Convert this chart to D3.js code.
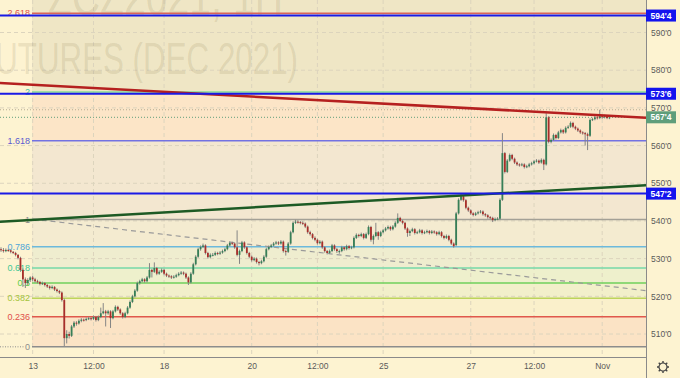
<!DOCTYPE html>
<html>
<head>
<meta charset="utf-8">
<script src="https://cdn.jsdelivr.net/npm/d3@7"></script>
<style>
  body { margin: 0; background: #fdf3d1; }
  svg { display: block; font-family: "Liberation Sans", Arial, sans-serif; }
</style>
</head>
<body>
<div id="chart"></div>
<script>
// ---- data ----
var dayLabels = ["13", "12:00", "18", "20", "12:00", "25", "27", "12:00", "Nov"];
var dayTickBars = [13, 38, 67, 103, 130, 157, 193, 219, 247];
var priceTicks = [510, 520, 530, 540, 550, 560, 570, 580, 590];

var fibLow = 506.6, fibHigh = 540.4;
var fibLevels = [0, 0.236, 0.382, 0.5, 0.618, 0.786, 1, 1.618, 2, 2.618, 3.618];
var fibLabels = ["0", "0.236", "0.382", "0.5", "0.618", "0.786", "1", "1.618", "2", "2.618", ""];

var keyLevels = [594.5, 573.75, 547.25];
var lastPrice = 567.5;
var highLine = 569.5;

var trendRed = [[-0.5, 576.6], [265, 567.4]];
var trendGreen = [[-0.5, 539.8], [265, 549.5]];
var fibTrend = [[13, 540.5], [265, 521.5]];

// hourly candles [open, high, low, close]
var candles = [
  [532.5,533.0,531.8,532.3],[532.3,532.8,531.6,532.0],[532.0,532.7,531.7,532.3],[532.3,532.6,531.8,532.2],
  [532.2,532.4,531.4,531.8],[531.8,532.0,531.2,531.5],[531.5,531.8,530.6,531.0],[531.0,531.2,529.8,530.2],
  [530.2,530.5,526.5,527.0],[527.0,527.4,522.5,524.5],[524.5,525.0,522.2,523.5],[523.5,524.8,523.0,524.3],
  [524.3,525.3,523.8,525.0],[525.0,525.4,524.0,524.5],[524.5,524.9,523.6,524.0],[524.0,524.4,523.4,523.8],
  [523.8,524.1,522.9,523.3],[523.3,523.9,523.0,523.5],[523.5,523.8,522.6,523.0],[523.0,523.3,522.2,522.6],
  [522.6,522.9,521.8,522.2],[522.2,522.9,521.9,522.5],[522.5,522.7,521.4,521.8],[521.8,522.1,521.0,521.4],
  [521.4,521.7,520.6,521.0],[521.0,521.3,518.6,519.0],[519.0,519.4,506.8,508.9],[508.9,511.0,507.5,510.0],
  [510.0,510.6,508.8,509.5],[509.5,512.4,509.2,512.0],[512.0,513.4,511.6,513.0],[513.0,513.4,512.2,512.8],
  [512.8,513.9,512.5,513.5],[513.5,514.2,513.1,513.8],[513.8,514.1,513.3,513.7],[513.7,514.4,513.4,514.0],
  [514.0,514.6,513.7,514.2],[514.2,514.5,513.6,514.0],[514.0,514.9,513.7,514.5],[514.5,514.8,513.3,513.7],
  [513.7,514.9,513.4,514.5],[514.5,517.0,514.2,515.5],[515.5,518.2,515.2,516.0],[516.0,516.4,512.0,515.5],
  [515.5,516.4,515.1,516.0],[516.0,516.3,511.6,514.2],[514.2,516.4,513.9,516.0],[516.0,517.6,515.7,517.2],
  [517.2,517.5,516.1,516.5],[516.5,516.8,515.1,515.5],[515.5,515.8,514.1,514.5],[514.5,515.9,514.2,515.5],
  [515.5,517.4,515.2,517.0],[517.0,518.9,516.7,518.5],[518.5,520.4,518.2,520.0],[520.0,521.9,519.7,521.5],
  [521.5,523.9,521.2,523.5],[523.5,524.4,523.1,524.0],[524.0,524.9,523.7,524.5],[524.5,524.8,523.6,524.0],
  [524.0,525.4,523.7,525.0],[525.0,528.8,524.7,527.0],[527.0,527.3,525.0,526.5],[526.5,529.0,526.2,527.5],
  [527.5,527.8,525.6,526.0],[526.0,526.9,525.7,526.5],[526.5,527.4,526.2,527.0],[527.0,527.3,525.6,526.0],
  [526.0,526.3,525.1,525.5],[525.5,525.8,524.9,525.3],[525.3,525.6,524.6,525.0],[525.0,525.6,524.7,525.2],
  [525.2,526.0,524.9,525.6],[525.6,526.4,525.3,526.0],[526.0,526.7,525.7,526.3],[526.3,526.6,525.6,526.0],
  [526.0,526.3,524.6,525.0],[525.0,525.3,523.0,523.7],[523.7,526.4,523.4,526.0],[526.0,528.9,525.7,528.5],
  [528.5,530.9,528.2,530.5],[530.5,532.9,530.2,532.5],[532.5,533.5,532.1,533.1],[533.1,534.0,532.8,533.5],
  [533.5,533.8,531.1,531.5],[531.5,531.8,530.0,530.4],[530.4,531.4,530.1,531.0],[531.0,531.5,530.6,531.0],
  [531.0,531.9,530.7,531.5],[531.5,531.8,530.9,531.3],[531.3,532.0,531.0,531.6],[531.6,532.4,531.3,532.0],
  [532.0,532.9,531.7,532.5],[532.5,533.9,532.2,533.5],[533.5,534.6,533.2,534.2],[534.2,534.5,533.6,534.0],
  [534.0,534.3,532.6,533.0],[533.0,537.5,530.6,531.0],[531.0,532.4,528.6,532.0],[532.0,534.7,531.7,534.3],
  [534.3,534.6,532.6,533.0],[533.0,533.3,531.1,531.5],[531.5,531.8,530.1,530.5],[530.5,530.8,529.2,529.6],
  [529.6,530.4,529.3,530.0],[530.0,530.3,528.7,529.1],[529.1,529.4,528.2,528.8],[528.8,529.7,528.5,529.3],
  [529.3,530.9,529.0,530.5],[530.5,532.9,530.2,532.5],[532.5,533.5,532.2,533.1],[533.1,533.9,532.8,533.5],
  [533.5,534.4,533.2,534.0],[534.0,534.7,533.7,534.3],[534.3,534.6,533.6,534.0],[534.0,534.9,533.7,534.5],
  [534.5,534.8,531.6,532.0],[532.0,532.4,530.8,531.8],[531.8,534.4,531.5,534.0],[534.0,537.4,533.7,537.0],
  [537.0,539.9,536.7,539.5],[539.5,540.3,539.2,539.8],[539.8,540.2,539.3,539.7],[539.7,540.0,539.1,539.5],
  [539.5,539.9,538.9,539.3],[539.3,539.6,538.1,538.5],[538.5,538.8,536.6,537.0],[537.0,537.4,536.1,536.5],
  [536.5,536.8,535.1,535.5],[535.5,535.9,534.6,535.0],[535.0,535.3,533.7,534.1],[534.1,534.9,533.8,534.5],
  [534.5,534.8,532.6,533.0],[533.0,533.3,531.6,532.0],[532.0,532.3,531.1,531.5],[531.5,532.4,531.2,532.0],
  [532.0,533.9,531.7,533.5],[533.5,533.8,532.1,532.5],[532.5,532.8,531.5,532.0],[532.0,532.4,531.3,532.0],
  [532.0,533.4,531.7,533.0],[533.0,533.3,532.1,532.5],[532.5,533.7,532.2,533.3],[533.3,533.6,532.4,532.8],
  [532.8,533.4,532.5,533.0],[533.0,535.9,532.7,535.5],[535.5,536.7,535.2,536.3],[536.3,536.6,535.6,536.0],
  [536.0,536.9,535.7,536.5],[536.5,536.8,535.1,535.5],[535.5,536.9,535.2,536.5],[536.5,538.8,536.2,538.4],
  [538.4,538.7,534.5,535.0],[535.0,536.4,533.8,536.0],[536.0,539.5,535.7,537.0],[537.0,537.3,535.0,536.0],
  [536.0,537.4,535.7,537.0],[537.0,537.9,536.7,537.5],[537.5,538.4,537.2,538.0],[538.0,538.8,537.7,538.4],
  [538.4,538.7,537.4,537.8],[537.8,538.9,537.5,538.5],[538.5,539.9,538.2,539.5],[539.5,542.0,539.2,540.8],
  [540.8,541.1,539.7,540.0],[540.0,540.3,539.1,539.5],[539.5,539.8,537.6,538.0],[538.0,538.3,535.8,536.8],
  [536.8,537.7,536.0,537.3],[537.3,538.2,537.0,537.8],[537.8,538.1,536.4,536.8],[536.8,537.4,536.5,537.0],
  [537.0,537.9,536.7,537.5],[537.5,537.8,536.4,536.8],[536.8,537.4,536.5,537.0],[537.0,537.7,536.7,537.3],
  [537.3,537.6,536.4,536.8],[536.8,537.6,536.5,537.2],[537.2,537.5,536.6,537.0],[537.0,537.3,536.1,536.5],
  [536.5,537.4,536.2,537.0],[537.0,537.3,535.6,536.0],[536.0,536.3,535.1,535.5],[535.5,536.4,535.2,536.0],
  [536.0,536.3,534.6,535.0],[535.0,535.3,533.6,534.0],[534.0,534.3,532.9,533.3],[533.6,542.4,533.3,542.0],
  [542.0,546.0,541.7,545.6],[545.6,547.4,545.3,546.5],[546.5,546.8,545.1,545.5],[545.5,545.8,543.1,543.5],
  [543.5,543.8,542.4,542.8],[542.8,543.1,541.6,542.0],[542.0,542.3,541.2,541.6],[541.6,542.4,541.3,542.0],
  [542.0,542.7,541.7,542.3],[542.3,542.9,542.0,542.5],[542.5,542.8,541.4,541.8],[541.8,542.1,541.1,541.5],
  [541.5,541.8,540.6,541.0],[541.0,541.3,540.4,540.8],[540.8,541.1,539.7,540.2],[540.2,540.9,539.9,540.5],
  [540.5,541.0,540.2,540.6],[540.6,546.0,540.3,545.6],[545.6,563.3,545.3,558.0],[558.0,558.3,552.6,553.0],
  [553.0,556.4,552.7,556.0],[556.0,557.9,555.7,557.5],[557.5,557.8,556.1,556.5],[556.5,556.8,555.1,555.5],
  [555.5,555.8,554.6,555.0],[555.0,555.3,554.4,554.8],[554.8,555.4,554.5,555.0],[555.0,555.3,553.9,554.3],
  [554.3,554.9,554.0,554.5],[554.5,555.4,554.2,555.0],[555.0,555.7,554.7,555.3],[555.3,556.2,555.0,555.8],
  [555.8,556.4,555.5,556.0],[556.0,556.3,555.1,555.5],[555.5,556.6,555.2,556.2],[556.2,556.5,553.5,555.0],
  [555.0,568.6,554.7,567.5],[567.5,567.8,560.6,561.0],[561.0,561.9,560.6,561.5],[561.5,563.2,561.2,562.8],
  [562.8,563.1,561.6,562.0],[562.0,563.9,561.7,563.5],[563.5,564.5,563.2,564.1],[564.1,564.4,563.1,563.5],
  [563.5,565.1,563.2,564.7],[564.7,565.4,564.4,565.0],[565.0,566.4,564.7,566.0],[566.0,566.3,564.6,565.0],
  [565.0,565.3,564.1,564.5],[564.5,564.8,563.6,564.0],[564.0,564.3,563.1,563.5],[563.5,563.8,562.9,563.3],
  [563.3,563.6,560.0,563.0],[563.0,563.4,558.8,562.6],[562.6,567.2,562.3,566.8],[566.8,567.4,566.5,567.0],
  [567.0,567.9,566.7,567.5],[567.5,567.8,566.9,567.3],[567.3,569.5,567.0,567.8],[567.8,568.1,567.1,567.5],
  [567.5,568.2,567.2,567.8],[567.8,568.1,567.0,567.3],[567.3,567.8,567.0,567.5]
];

// ---- layout ----
var W = 680, H = 378;
var plotW = 646, plotH = 357;
var fibStartX = 32;

var svg = d3.select("#chart").append("svg")
    .attr("width", W)
    .attr("height", H);

var x = d3.scaleLinear().domain([0, 265]).range([1, plotW]);
var y = d3.scaleLinear().domain([510, 590]).range([334, 32.5]);
var fibPrice = function(l) { return fibLow + l * (fibHigh - fibLow); };

// price format like 567'4 (eighths)
function fmt(p) {
  var whole = Math.floor(p + 1e-9);
  var e = Math.round((p - whole) * 8);
  return whole + "'" + e;
}

svg.append("rect").attr("width", W).attr("height", H).attr("fill", "#fdf3d1");

var plot = svg.append("g");
plot.append("defs").append("clipPath").attr("id", "clip")
  .append("rect").attr("width", plotW).attr("height", plotH);
var g = plot.append("g").attr("clip-path", "url(#clip)");

// fib bands
var bandColors = ["#fbe3c5", "#faf0cb", "#f2efca", "#eef0cc", "#efedcf", "#f4ebd0",
                  "#f3e7d0", "#fce5c7", "#efe6c5", "#efe6c5"];
g.selectAll("rect.band")
  .data(fibLevels.slice(0, -1))
  .enter().append("rect")
    .attr("class", "band")
    .attr("x", fibStartX)
    .attr("width", plotW - fibStartX)
    .attr("y", (d, i) => y(fibPrice(fibLevels[i + 1])))
    .attr("height", (d, i) => y(fibPrice(d)) - y(fibPrice(fibLevels[i + 1])))
    .attr("fill", (d, i) => bandColors[i]);

// grid
g.selectAll("line.hgrid")
  .data(priceTicks)
  .enter().append("line")
    .attr("x1", 0).attr("x2", plotW)
    .attr("y1", d => y(d)).attr("y2", d => y(d))
    .attr("stroke", "#dcd4bd").attr("stroke-dasharray", "4,3");
g.selectAll("line.vgrid")
  .data(dayTickBars)
  .enter().append("line")
    .attr("x1", d => x(d)).attr("x2", d => x(d))
    .attr("y1", 0).attr("y2", plotH)
    .attr("stroke", "#dcd4bd").attr("stroke-dasharray", "4,3");

// watermark
g.append("text")
  .attr("transform", "translate(283,15) scale(0.7,1)")
  .attr("text-anchor", "end")
  .attr("font-size", 56)
  .attr("fill", "rgba(120,105,60,0.15)")
  .text("ZCZ2021, 1H");
g.append("text")
  .attr("transform", "translate(298,74) scale(0.712,1)")
  .attr("text-anchor", "end")
  .attr("font-size", 44)
  .attr("fill", "rgba(120,105,60,0.15)")
  .text("CORN FUTURES (DEC 2021)");

// fib lines and labels
var fibLineColors = ["#8c8c8c", "#e0584c", "#bcd45a", "#6fd15b", "#74d8a8", "#6cb9dc",
                     "#a3a096", "#7272e2", "#86dc96", "#d9645a", "none"];
var fibTextColors = ["#8c8c8c", "#e0504a", "#a3c43c", "#5ccc45", "#3dc794", "#4fa6d8",
                     "#8c8c8c", "#5a5ad0", "#40c0a0", "#e0504a", "none"];
g.selectAll("line.fib")
  .data(fibLevels)
  .enter().append("line")
    .attr("x1", fibStartX).attr("x2", plotW)
    .attr("y1", d => y(fibPrice(d))).attr("y2", d => y(fibPrice(d)))
    .attr("stroke", (d, i) => fibLineColors[i])
    .attr("stroke-width", 1.5);
g.append("line")
  .attr("x1", 0).attr("x2", 24)
  .attr("y1", y(fibPrice(0))).attr("y2", y(fibPrice(0)))
  .attr("stroke", "#8c8c8c").attr("stroke-dasharray", "1,1.5");
g.selectAll("text.fib")
  .data(fibLevels)
  .enter().append("text")
    .attr("x", 30)
    .attr("y", d => y(fibPrice(d)))
    .attr("dy", "0.35em")
    .attr("text-anchor", "end")
    .attr("font-size", 9)
    .attr("fill", (d, i) => fibTextColors[i])
    .text((d, i) => fibLabels[i]);

// dashed fib trend
g.append("line")
  .attr("x1", x(fibTrend[0][0])).attr("y1", y(fibTrend[0][1]))
  .attr("x2", x(fibTrend[1][0])).attr("y2", y(fibTrend[1][1]))
  .attr("stroke", "#9a9a9a").attr("stroke-width", 1.2).attr("stroke-dasharray", "5,4");

// dotted price lines
g.append("line")
  .attr("x1", 0).attr("x2", plotW)
  .attr("y1", y(highLine)).attr("y2", y(highLine))
  .attr("stroke", "#b5ab92").attr("stroke-dasharray", "1,2");
g.append("line")
  .attr("x1", 0).attr("x2", plotW)
  .attr("y1", y(lastPrice)).attr("y2", y(lastPrice))
  .attr("stroke", "#5f9e7b").attr("stroke-dasharray", "1,2");

// candles
var bw = 1.8;
var cg = g.append("g");
cg.selectAll("line.wick")
  .data(candles)
  .enter().append("line")
    .attr("x1", (d, i) => x(i)).attr("x2", (d, i) => x(i))
    .attr("y1", d => y(d[1])).attr("y2", d => y(d[2]))
    .attr("stroke", "#858585").attr("stroke-width", 1);
cg.selectAll("rect.body")
  .data(candles)
  .enter().append("rect")
    .attr("x", (d, i) => x(i) - bw / 2)
    .attr("width", bw)
    .attr("y", d => y(Math.max(d[0], d[3])))
    .attr("height", d => Math.max(1, Math.abs(y(d[0]) - y(d[3]))))
    .attr("fill", d => d[3] >= d[0] ? "#367f57" : "#a82e2a");

// trend lines
g.append("line")
  .attr("x1", x(trendRed[0][0])).attr("y1", y(trendRed[0][1]))
  .attr("x2", x(trendRed[1][0])).attr("y2", y(trendRed[1][1]))
  .attr("stroke", "#b5201f").attr("stroke-width", 2.5);
g.append("line")
  .attr("x1", x(trendGreen[0][0])).attr("y1", y(trendGreen[0][1]))
  .attr("x2", x(trendGreen[1][0])).attr("y2", y(trendGreen[1][1]))
  .attr("stroke", "#1d5a24").attr("stroke-width", 2.5);

// key horizontal levels
g.selectAll("line.key")
  .data(keyLevels)
  .enter().append("line")
    .attr("x1", 0).attr("x2", plotW)
    .attr("y1", d => y(d)).attr("y2", d => y(d))
    .attr("stroke", "#1a1ae6").attr("stroke-width", 2);

// axes
var yAxis = svg.append("g")
  .attr("transform", "translate(" + plotW + ",0)")
  .call(d3.axisRight(y).tickValues(priceTicks).tickSize(0).tickPadding(5).tickFormat(fmt));
yAxis.select(".domain").remove();
yAxis.selectAll("text").attr("font-size", 8.5).attr("fill", "#5a5a5a")
  .attr("font-family", "Liberation Sans, Arial, sans-serif");

var xAxis = svg.append("g")
  .attr("transform", "translate(0," + plotH + ")")
  .call(d3.axisBottom(x).tickValues(dayTickBars).tickSize(0).tickPadding(6)
    .tickFormat((d, i) => dayLabels[i]));
xAxis.select(".domain").remove();
xAxis.selectAll("text").attr("font-size", 8.5).attr("fill", "#5a5a5a")
  .attr("font-family", "Liberation Sans, Arial, sans-serif");

svg.append("line").attr("x1", 0).attr("x2", plotW).attr("y1", plotH + 0.5).attr("y2", plotH + 0.5)
  .attr("stroke", "#8a8a8a");
svg.append("line").attr("x1", plotW + 0.5).attr("x2", plotW + 0.5).attr("y1", 0).attr("y2", H)
  .attr("stroke", "#8a8a8a");

// axis price labels
var tags = svg.append("g");
tags.selectAll("rect.key")
  .data(keyLevels)
  .enter().append("rect")
    .attr("x", plotW).attr("width", 30)
    .attr("y", d => y(d) - 6).attr("height", 12)
    .attr("fill", "#1414ee");
tags.selectAll("text.key")
  .data(keyLevels)
  .enter().append("text")
    .attr("x", plotW + 15).attr("y", d => y(d))
    .attr("dy", "0.35em").attr("text-anchor", "middle")
    .attr("font-size", 8.5).attr("font-weight", "bold").attr("fill", "#fff")
    .text(d => fmt(d));
tags.append("rect")
  .attr("x", plotW).attr("width", 30)
  .attr("y", y(lastPrice) - 6).attr("height", 12)
  .attr("fill", "#5f9e7b");
tags.append("text")
  .attr("x", plotW + 15).attr("y", y(lastPrice))
  .attr("dy", "0.35em").attr("text-anchor", "middle")
  .attr("font-size", 8.5).attr("font-weight", "bold").attr("fill", "#fff")
  .text(fmt(lastPrice));

// settings gear
var gear = svg.append("g").attr("transform", "translate(663,367)");
gear.append("circle").attr("r", 4).attr("fill", "none").attr("stroke", "#444").attr("stroke-width", 1.2);
gear.selectAll("line")
  .data(d3.range(8))
  .enter().append("line")
    .attr("x1", d => Math.cos(d * Math.PI / 4) * 4)
    .attr("y1", d => Math.sin(d * Math.PI / 4) * 4)
    .attr("x2", d => Math.cos(d * Math.PI / 4) * 6)
    .attr("y2", d => Math.sin(d * Math.PI / 4) * 6)
    .attr("stroke", "#444").attr("stroke-width", 1.4);
</script>
</body>
</html>
